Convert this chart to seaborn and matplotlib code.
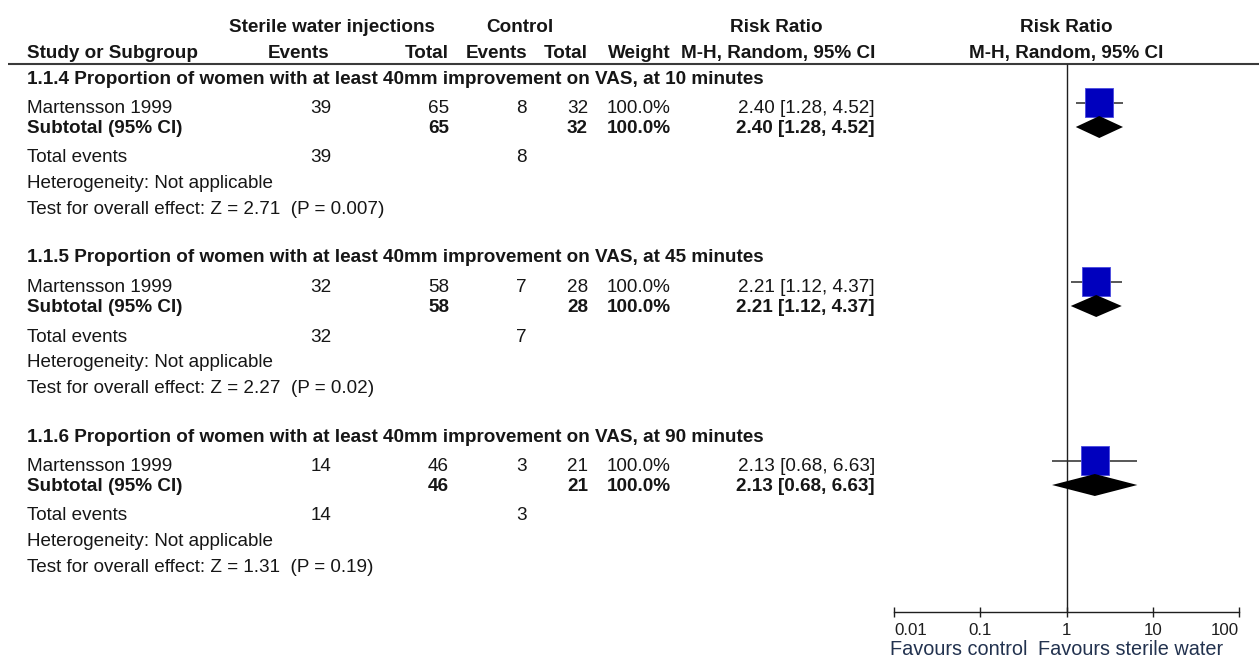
import numpy as np
import pandas as pd
import matplotlib
matplotlib.use("Agg")
import matplotlib.pyplot as plt
import matplotlib.transforms as mtransforms
from matplotlib.ticker import NullLocator
import seaborn as sns

# ---------------- data ----------------
subgroup_titles = [
    "1.1.4 Proportion of women with at least 40mm improvement on VAS, at 10 minutes",
    "1.1.5 Proportion of women with at least 40mm improvement on VAS, at 45 minutes",
    "1.1.6 Proportion of women with at least 40mm improvement on VAS, at 90 minutes",
]
study_names = ["Martensson 1999", "Martensson 1999", "Martensson 1999"]
swi_events = [39, 32, 14]
swi_total = [65, 58, 46]
ctl_events = [8, 7, 3]
ctl_total = [32, 28, 21]
weights = [100.0, 100.0, 100.0]
rr = [2.40, 2.21, 2.13]
ci_low = [1.28, 1.12, 0.68]
ci_high = [4.52, 4.37, 6.63]
z_values = ["2.71", "2.27", "1.31"]
p_values = ["0.007", "0.02", "0.19"]
axis_ticks = [0.01, 0.1, 1, 10, 100]
tick_labels = ["0.01", "0.1", "1", "10", "100"]
favours_left = "Favours control"
favours_right = "Favours sterile water"

# ---------------- layout (pixels) ----------------
W, H, DPI = 1259, 661, 100
GROUP_STEP = 179
Y_TITLE, Y_STUDY, Y_SUB, Y_TE, Y_HET, Y_TEST = 83.5, 113, 133, 162.5, 188, 214
Y_MARK, Y_DIAMOND = 102.5, 127
Y_H1, Y_H2, Y_RULE = 32, 58, 64
AXIS_Y = 612
PLOT_L, PLOT_R = 894, 1239

X_NAME = 27
X_SWI_EV, X_SWI_TOT = 331, 449
X_CTL_EV, X_CTL_TOT = 527, 588
X_WEIGHT, X_RR = 671, 875

FS = 13.6
TXT = "#161616"

sns.set_theme(style="white")
plt.rcParams["font.family"] = ["Liberation Sans", "DejaVu Sans"]

fig = plt.figure(figsize=(W / DPI, H / DPI), dpi=DPI)
tab = fig.add_axes([0, 0, 1, 1])
tab.set_xlim(0, W)
tab.set_ylim(H, 0)
tab.axis("off")


def put(x, y, s, ha="left", bold=False, color=TXT, size=FS, ax=None, transform=None):
    ax = ax or tab
    kw = {}
    if transform is not None:
        kw["transform"] = transform
    ax.text(x, y, s, ha=ha, va="baseline", fontsize=size,
            fontweight="bold" if bold else "normal", color=color, **kw)


# header
put(332, Y_H1, "Sterile water injections", ha="center", bold=True)
put(520, Y_H1, "Control", ha="center", bold=True)
put(776, Y_H1, "Risk Ratio", ha="center", bold=True)
put(1066, Y_H1, "Risk Ratio", ha="center", bold=True)
put(X_NAME, Y_H2, "Study or Subgroup", bold=True)
put(329, Y_H2, "Events", ha="right", bold=True)
put(X_SWI_TOT, Y_H2, "Total", ha="right", bold=True)
put(X_CTL_EV, Y_H2, "Events", ha="right", bold=True)
put(X_CTL_TOT, Y_H2, "Total", ha="right", bold=True)
put(X_WEIGHT, Y_H2, "Weight", ha="right", bold=True)
put(X_RR, Y_H2, "M-H, Random, 95% CI", ha="right", bold=True)
put(1066, Y_H2, "M-H, Random, 95% CI", ha="center", bold=True)
tab.hlines(Y_RULE, 8, W, color="#3a3a3a", lw=1.5)

# table body
for g in range(len(subgroup_titles)):
    off = g * GROUP_STEP
    ci_txt = f"{rr[g]:.2f} [{ci_low[g]:.2f}, {ci_high[g]:.2f}]"
    put(X_NAME, Y_TITLE + off, subgroup_titles[g], bold=True)
    # study row
    put(X_NAME, Y_STUDY + off, study_names[g])
    put(X_SWI_EV, Y_STUDY + off, str(swi_events[g]), ha="right")
    put(X_SWI_TOT, Y_STUDY + off, str(swi_total[g]), ha="right")
    put(X_CTL_EV, Y_STUDY + off, str(ctl_events[g]), ha="right")
    put(X_CTL_TOT, Y_STUDY + off, str(ctl_total[g]), ha="right")
    put(X_WEIGHT, Y_STUDY + off, f"{weights[g]:.1f}%", ha="right")
    put(X_RR, Y_STUDY + off, ci_txt, ha="right")
    # subtotal row
    put(X_NAME, Y_SUB + off, "Subtotal (95% CI)", bold=True)
    put(X_SWI_TOT, Y_SUB + off, str(swi_total[g]), ha="right", bold=True)
    put(X_CTL_TOT, Y_SUB + off, str(ctl_total[g]), ha="right", bold=True)
    put(X_WEIGHT, Y_SUB + off, f"{weights[g]:.1f}%", ha="right", bold=True)
    put(X_RR, Y_SUB + off, ci_txt, ha="right", bold=True)
    # summary lines
    put(X_NAME, Y_TE + off, "Total events")
    put(X_SWI_EV, Y_TE + off, str(swi_events[g]), ha="right")
    put(X_CTL_EV, Y_TE + off, str(ctl_events[g]), ha="right")
    put(X_NAME, Y_HET + off, "Heterogeneity: Not applicable")
    put(X_NAME, Y_TEST + off,
        f"Test for overall effect: Z = {z_values[g]}  (P = {p_values[g]})")

# ---------------- forest panel ----------------
fx = fig.add_axes([PLOT_L / W, 0, (PLOT_R - PLOT_L) / W, 1], facecolor="none")
fx.set_xscale("log")
fx.set_xlim(axis_ticks[0], axis_ticks[-1])
fx.set_ylim(H, 0)

offsets = np.arange(len(rr)) * GROUP_STEP
forest = pd.DataFrame({
    "rr": rr, "lo": ci_low, "hi": ci_high, "weight": weights,
    "y_mark": Y_MARK + offsets, "y_diamond": Y_DIAMOND + offsets,
})

# line of no effect
fx.vlines(1, Y_RULE, AXIS_Y, color="#1e1e1e", lw=1.0, zorder=1)

# study confidence intervals and weighted squares
fx.hlines(forest["y_mark"], forest["lo"], forest["hi"], color="#2a2a2a", lw=1.1, zorder=2)
side_pt = 20.3
sns.scatterplot(data=forest, x="rr", y="y_mark", marker="s",
                s=(side_pt ** 2) * forest["weight"] / 100.0,
                color="#0000BE", edgecolor="#4a4ae0", linewidth=0.6,
                legend=False, ax=fx, zorder=3)

# pooled diamonds
half_h = 11
for _, r in forest.iterrows():
    fx.fill([r["lo"], r["rr"], r["hi"], r["rr"]],
            [r["y_diamond"], r["y_diamond"] - half_h, r["y_diamond"], r["y_diamond"] + half_h],
            color="black", lw=0, zorder=4)

fx.set_xlabel("")
fx.set_ylabel("")
for side in ("left", "right", "top"):
    fx.spines[side].set_visible(False)
fx.spines["bottom"].set_position(("data", AXIS_Y))
fx.spines["bottom"].set_color("#1e1e1e")
fx.spines["bottom"].set_linewidth(1.0)
fx.set_yticks([])
fx.set_xticks(axis_ticks)
fx.set_xticklabels(tick_labels)
fx.xaxis.set_minor_locator(NullLocator())
fx.tick_params(axis="x", direction="inout", length=7.5, width=1.0, pad=4.5,
               labelsize=12.2, colors="#1e1e1e", bottom=True)
labels = fx.get_xticklabels()
labels[0].set_horizontalalignment("left")
labels[-1].set_horizontalalignment("right")

# direction labels either side of the line of no effect
put(1028, 655, favours_left, ha="right", color="#22324f", size=14.3)
put(1038, 655, favours_right, ha="left", color="#22324f", size=14.3)

fig.savefig("out.png", dpi=DPI)
